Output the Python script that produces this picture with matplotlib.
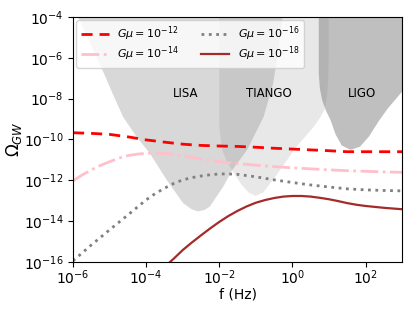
import numpy as np
import matplotlib
matplotlib.use("Agg")
import matplotlib.pyplot as plt
from matplotlib.ticker import NullLocator

# Sensitivity regions: boundary points (log10 f, log10 Omega)
lisa_lf = [-5.95, -5.86, -5.55, -5.23, -4.93, -4.63, -4.27, -3.90, -3.44, -2.99, -2.76,
           -2.58, -2.40, -2.26, -1.89, -1.65, -1.24, -0.79, -0.53, -0.38, -0.27, -0.24]
lisa_lo = [-3.6, -4.0, -5.2, -6.45, -7.7, -8.9, -9.85, -10.68, -11.98, -13.12, -13.42,
           -13.53, -13.45, -13.29, -12.31, -11.51, -10.51, -8.9, -7.27, -5.62, -4.0, -3.6]

tiango_lf = [-2.0, -2.0, -1.96, -1.92, -1.8, -1.65, -1.4, -1.2, -1.01, -0.8, -0.466,
             -0.2, 0.08, 0.33, 0.575, 0.75, 0.877, 0.95, 0.98, 0.99, 0.99]
tiango_lo = [-3.6, -9.39, -10.0, -10.51, -11.05, -11.51, -12.2, -12.6, -12.77, -12.6, -11.82,
             -11.15, -10.42, -9.9, -9.39, -8.95, -8.55, -7.8, -7.0, -6.11, -3.6]

ligo_lf = [0.72, 0.72, 0.75, 0.81, 0.92, 1.04, 1.18, 1.35, 1.59, 1.85, 2.09, 2.36, 2.6,
           2.99, 3.1, 3.1]
ligo_lo = [-3.6, -6.78, -7.5, -8.06, -8.6, -9.04, -9.75, -10.3, -10.51, -10.35, -9.86, -9.1,
           -8.5, -7.67, -7.4, -3.6]

# GW spectra (log10 f, log10 Omega)
g12_lf = [-6, -5.5, -5, -4.5, -4, -3.5, -3, -2.5, -2, -1.5, -1, -0.5, 0, 0.5, 1, 1.5, 2, 2.5, 3]
g12_lo = [-9.67, -9.7, -9.75, -9.87, -10.02, -10.13, -10.23, -10.29, -10.32, -10.34, -10.38,
          -10.43, -10.47, -10.51, -10.55, -10.6, -10.6, -10.6, -10.6]

g14_lf = [-6, -5.75, -5.5, -5.25, -5, -4.75, -4.5, -4.25, -4, -3.75, -3.5, -3.25, -3, -2.5,
          -2, -1.5, -1, -0.5, 0, 0.5, 1, 1.5, 2, 2.5, 3]
g14_lo = [-12.03, -11.74, -11.49, -11.27, -11.09, -10.92, -10.79, -10.72, -10.68, -10.66,
          -10.68, -10.73, -10.81, -10.95, -11.09, -11.18, -11.26, -11.33, -11.39, -11.44,
          -11.49, -11.53, -11.56, -11.59, -11.61]

g16_lf = [-6, -5.5, -5, -4.5, -4, -3.75, -3.5, -3.25, -3, -2.75, -2.5, -2.25, -2, -1.75,
          -1.5, -1, -0.5, 0, 0.5, 1, 1.5, 2, 2.5, 3]
g16_lo = [-15.95, -15.17, -14.43, -13.70, -12.96, -12.65, -12.39, -12.16, -11.98, -11.87,
          -11.79, -11.73, -11.69, -11.69, -11.71, -11.83, -11.98, -12.11, -12.23, -12.33,
          -12.42, -12.47, -12.5, -12.52]

g18_lf = [-3.5, -3.25, -3, -2.75, -2.5, -2.25, -2, -1.75, -1.5, -1.25, -1, -0.75, -0.5,
          -0.25, 0, 0.25, 0.5, 0.75, 1, 1.25, 1.5, 1.75, 2, 2.5, 3]
g18_lo = [-16.25, -15.85, -15.42, -15.05, -14.7, -14.36, -14.04, -13.75, -13.5, -13.28,
          -13.1, -12.97, -12.87, -12.8, -12.77, -12.77, -12.8, -12.86, -12.93, -13.02,
          -13.12, -13.2, -13.26, -13.35, -13.42]

labels = [r"$G\mu=10^{-12}$", r"$G\mu=10^{-14}$", r"$G\mu=10^{-16}$", r"$G\mu=10^{-18}$"]
det_names = ["LISA", "TIANGO", "LIGO"]
det_label_f = [1.2e-3, 0.22, 78]
det_label_omega = 1.7e-8

x_ticks = [1e-6, 1e-4, 1e-2, 1e0, 1e2]
y_ticks = [1e-16, 1e-14, 1e-12, 1e-10, 1e-8, 1e-6, 1e-4]

fig = plt.figure(figsize=(4.15, 3.11), dpi=100)
ax = fig.add_axes([0.176, 0.158, 0.793, 0.787])
ax.set_xscale("log")
ax.set_yscale("log")

def p(lf, lo):
    return 10.0 ** np.array(lf), 10.0 ** np.array(lo)

x, y = p(lisa_lf, lisa_lo)
ax.fill(x, y, color="grey", alpha=0.3, lw=0)
x, y = p(tiango_lf, tiango_lo)
ax.fill(x, y, color="grey", alpha=0.18, lw=0)
x, y = p(ligo_lf, ligo_lo)
ax.fill(x, y, color="grey", alpha=0.5, lw=0)

x, y = p(g12_lf, g12_lo)
ax.plot(x, y, color="red", ls=(0, (4, 2.5)), lw=2, label=labels[0])
x, y = p(g14_lf, g14_lo)
ax.plot(x, y, color="pink", ls="-.", lw=2, label=labels[1])
x, y = p(g16_lf, g16_lo)
ax.plot(x, y, color="grey", ls=":", lw=2, label=labels[2])
x, y = p(g18_lf, g18_lo)
ax.plot(x, y, color="brown", ls="-", lw=1.6, label=labels[3])

for name, f in zip(det_names, det_label_f):
    ax.text(f, det_label_omega, name, ha="center", va="center", fontsize=8.5)

ax.set_xlim(1e-6, 1e3)
ax.set_ylim(1e-16, 1e-4)
ax.set_xticks(x_ticks)
ax.set_yticks(y_ticks)
ax.xaxis.set_minor_locator(NullLocator())
ax.yaxis.set_minor_locator(NullLocator())
ax.tick_params(labelsize=10)
ax.tick_params(axis="x", pad=1.5)
ax.set_xlabel("f (Hz)", fontsize=10, labelpad=0)
ax.set_ylabel(r"$\Omega_{GW}$", fontsize=12, labelpad=0)
ax.legend(ncol=2, loc="upper left", fontsize=8, handlelength=2.5, columnspacing=2.0,
          labelspacing=0.1, borderaxespad=0.3)

fig.savefig("out.png", dpi=100)
